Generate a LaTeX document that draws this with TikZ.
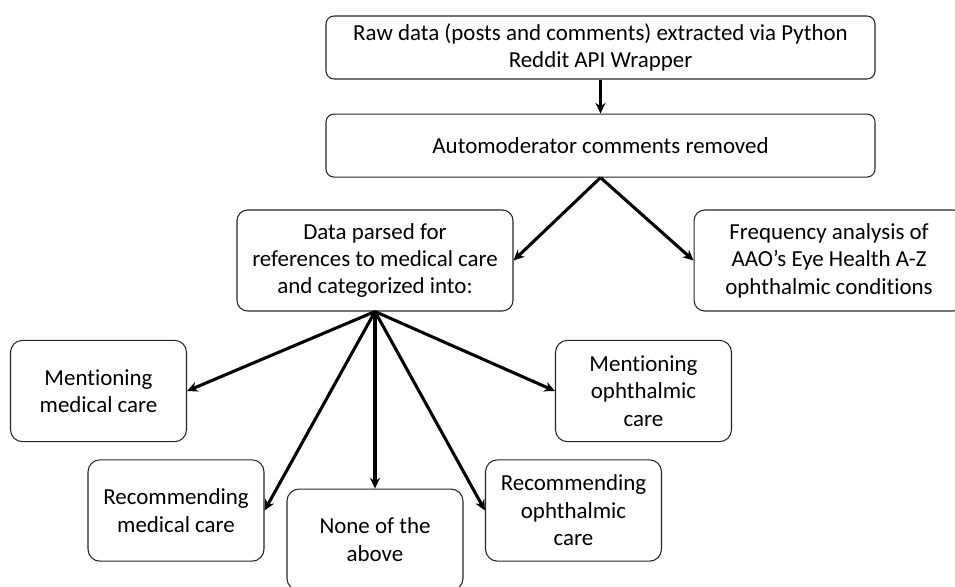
\documentclass[tikz,border=0pt]{standalone}
\usepackage{fontspec}
\setmainfont{Carlito}[Ligatures=NoCommon]
\usetikzlibrary{positioning,arrows.meta}

\begin{document}
\begin{tikzpicture}[%
            x=0.75pt,
            y=-0.75pt,
            >={Stealth[length=8pt,width=7.5pt]},
            font=\fontsize{17.2}{20.6}\selectfont,
            stage/.style={%
            	rectangle,
            	rounded corners=6pt,
            	minimum width=411.75pt,
            	minimum height=47.25pt,
            	align=center,
            	draw=black!85,
            	line width=0.8pt
            },
            task/.style={%
            	rectangle,
            	rounded corners=8pt,
            	minimum width=207pt,
            	minimum height=75.75pt,
            	align=center,
            	draw=black!85,
            	line width=0.8pt
            },
            category/.style={%
            	rectangle,
            	rounded corners=9pt,
            	minimum width=132pt,
            	minimum height=76pt,
            	align=center,
            	draw=black!85,
            	line width=0.8pt
            },
            flow/.style={->, line width=2.3pt}
            ]
            \useasboundingbox (0,0) rectangle (955,586);
            \node[stage] (raw) at (600.5,47.5)              {Raw data (posts and comments) extracted via Python\\Reddit API Wrapper};
            \node[stage] (auto) [below=25.5pt of raw]       {Automoderator comments removed};
            \node[task] (parse) at (375,260.5)              {Data parsed for\\references to medical care\\and categorized into:};
            \node[task, minimum width=202.5pt] (freq) [right=135pt of parse] {Frequency analysis of\\AAO’s Eye Health A-Z\\ophthalmic conditions};
            \node[category] (mentmed) at (98.5,391)         {Mentioning\\medical care};
            \node[category] (recmed) at (176,510.5)         {Recommending\\medical care};
            \node[category] (none) [below=132.75pt of parse] {None of the\\above};
            \node[category] (mentoph) at (643.5,391)        {Mentioning\\ophthalmic\\care};
            \node[category] (recoph) at (573.5,510.5)       {Recommending\\ophthalmic\\care};

            \path[flow] (raw) edge                 (auto)
            (auto.south) edge                      (parse.east)
            (auto.south) edge                      (freq.west)
            (parse.south) edge                     (mentmed.east)
            (parse.south) edge                     (recmed.east)
            (parse.south) edge                     (none.north)
            (parse.south) edge                     (recoph.west)
            (parse.south) edge                     (mentoph.west);
\end{tikzpicture}
\end{document}
